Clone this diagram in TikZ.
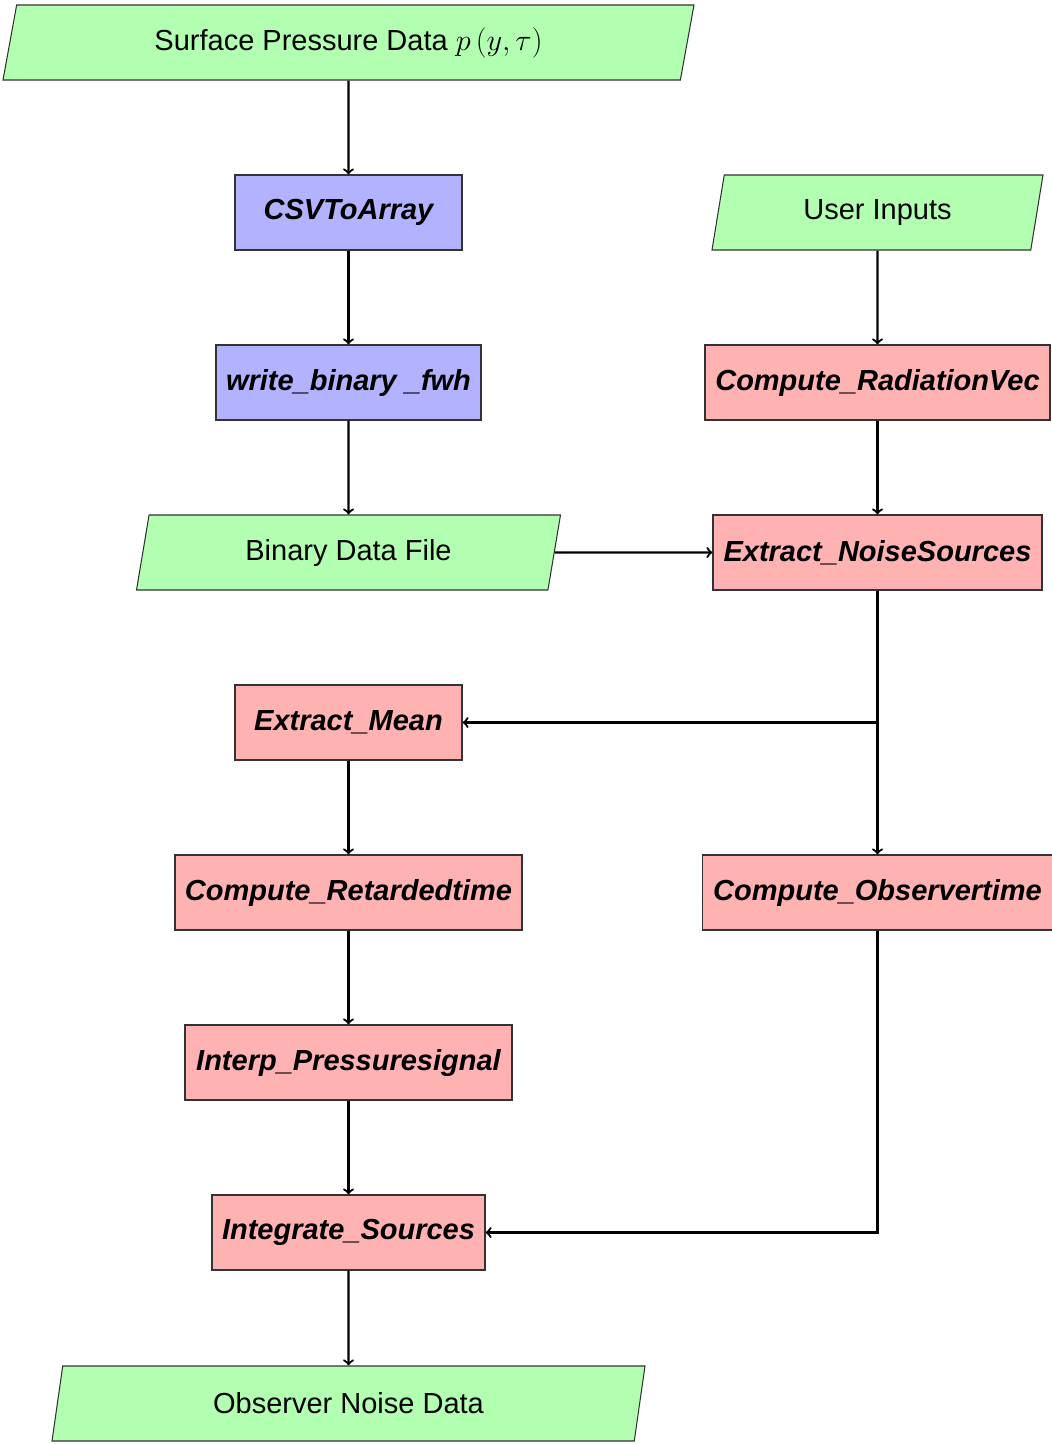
\documentclass[tikz,border=0pt]{standalone}
\usepackage{fontspec}
\setmainfont{Liberation Sans}
\usepackage{tikz}
\usetikzlibrary{shapes.geometric, arrows}
\usepackage{amsmath}

\begin{document}
\begin{tikzpicture}[
	font=\fontsize{16.5}{20}\selectfont,
	io/.style={trapezium, trapezium left angle=72, trapezium right angle=108,
		trapezium stretches body=true, draw=black!80, line width=0.6pt,
		fill=green!30, minimum height=1.5cm},
	func/.style={rectangle, draw=black!80, line width=0.6pt, minimum height=1.5cm,
		font=\fontsize{16.5}{20}\selectfont\bfseries\itshape},
	conv/.style={func, fill=blue!30},
	proc/.style={func, fill=red!30},
	flow/.style={->, line width=1.25pt}
]
	% Page
	\useasboundingbox (0,0) rectangle (21.04,-28.88);
	% Input data and conversion
	\node[io, minimum width=13.82cm] (spd) at (6.97,-0.85) {Surface Pressure Data $p\left(y,\tau\right)$};
	\node[conv, minimum width=4.54cm] (csv) at (6.97,-4.25) {CSVToArray};
	\node[conv, minimum width=5.3cm] (wbin) at (6.97,-7.65) {write\_binary \_fwh};
	\node[io, minimum width=8.48cm] (bin) at (6.97,-11.05) {Binary Data File};
	% User side
	\node[io, minimum width=6.62cm] (user) at (17.55,-4.25) {User Inputs};
	\node[proc, minimum width=6.9cm] (radvec) at (17.55,-7.65) {Compute\_RadiationVec};
	\node[proc, minimum width=6.58cm] (ens) at (17.55,-11.05) {Extract\_NoiseSources};
	\node[proc, minimum width=7.0cm] (obst) at (17.55,-17.85) {Compute\_Observertime};
	% Processing chain
	\node[proc, minimum width=4.54cm] (mean) at (6.97,-14.45) {Extract\_Mean};
	\node[proc, minimum width=6.94cm] (rett) at (6.97,-17.85) {Compute\_Retardedtime};
	\node[proc, minimum width=6.54cm] (interp) at (6.97,-21.25) {Interp\_Pressuresignal};
	\node[proc, minimum width=5.46cm] (integ) at (6.97,-24.65) {Integrate\_Sources};
	\node[io, minimum width=11.86cm] (out) at (6.97,-28.07) {Observer Noise Data};
	% Connectors
	\draw[flow] (spd) -- (csv);
	\draw[flow] (csv) -- (wbin);
	\draw[flow] (wbin) -- (bin);
	\draw[flow] (user) -- (radvec);
	\draw[flow] (radvec) -- (ens);
	\draw[flow] (bin.east) -- (ens.west);
	\draw[flow] (ens) |- (mean);
	\draw[flow] (ens) -- (obst);
	\draw[flow] (mean) -- (rett);
	\draw[flow] (rett) -- (interp);
	\draw[flow] (interp) -- (integ);
	\draw[flow] (obst) |- (integ);
	\draw[flow] (integ) -- (out);
\end{tikzpicture}
\end{document}
